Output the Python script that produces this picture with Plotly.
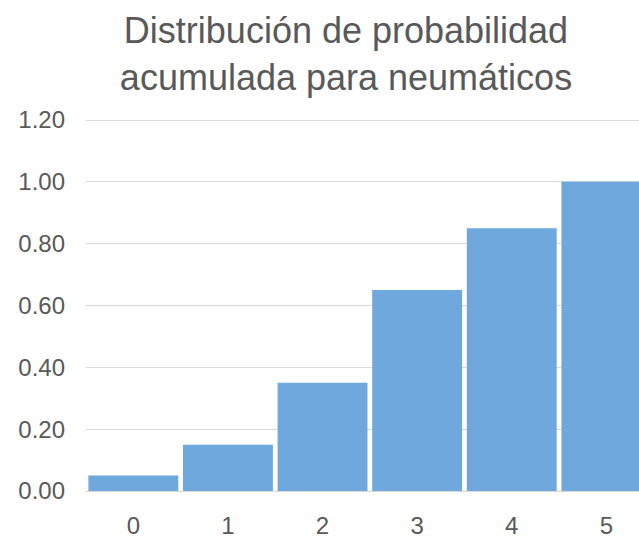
import plotly.graph_objects as go

categories = ["0", "1", "2", "3", "4", "5"]
values = [0.05, 0.15, 0.35, 0.65, 0.85, 1.00]
title_lines = ["Distribución de probabilidad", "acumulada para neumáticos"]

FONT = "Liberation Sans, Arial, sans-serif"
GRAY = "#595959"

fig = go.Figure(go.Bar(
    x=categories, y=values,
    marker=dict(color="#6fa8dc", line=dict(color="#ffffff", width=0)),
    hoverinfo="x+y",
))

fig.update_layout(
    width=639, height=539,
    margin=dict(l=86, r=0, t=118, b=40),
    paper_bgcolor="white", plot_bgcolor="white",
    bargap=0.05,
    showlegend=False,
    font=dict(family=FONT, color=GRAY),
    title=dict(
        text="<br>".join(title_lines),
        xref="container", x=346 / 639, xanchor="center",
        yref="container", y=1 - 43 / 539, yanchor="middle",
        font=dict(family=FONT, size=36, color=GRAY),
    ),
    xaxis=dict(
        type="category", range=[-0.5, 5.345],
        showgrid=False, showline=True, linecolor="#d9d9d9", linewidth=1,
        ticks="", tickfont=dict(size=24, color=GRAY), ticklabelstandoff=13,
    ),
    yaxis=dict(
        range=[0, 1.2066], tickvals=[0, 0.2, 0.4, 0.6, 0.8, 1.0, 1.2], tickformat=".2f",
        showgrid=True, gridcolor="#d9d9d9", gridwidth=1,
        zeroline=False, showline=False,
        ticks="", tickfont=dict(size=24, color=GRAY), ticklabelstandoff=20,
    ),
)

fig.write_html("out.html")
